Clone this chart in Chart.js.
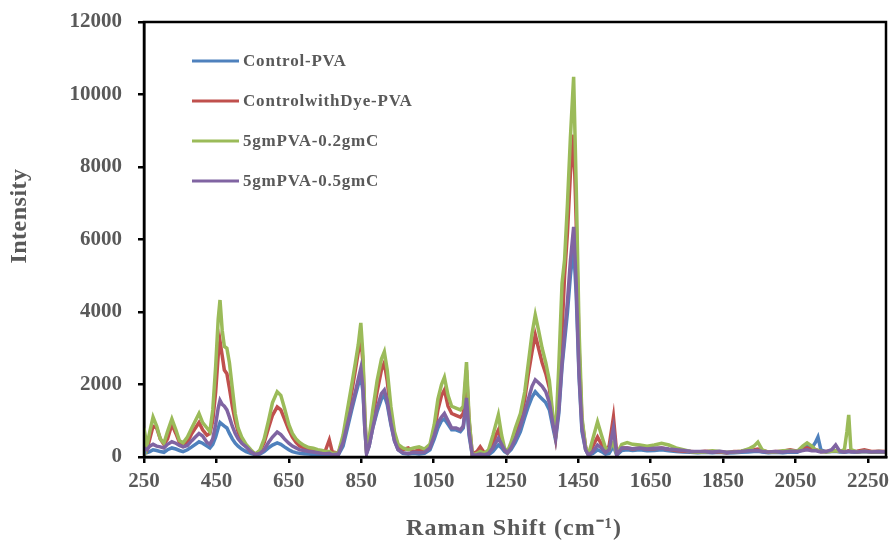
<!DOCTYPE html>
<html>
<head>
<meta charset="utf-8">
<script src="https://cdn.jsdelivr.net/npm/chart.js@4"></script>
<style>
    html, body { margin: 0; padding: 0; background: #ffffff; }
    #wrap { width: 891px; height: 543px; }
</style>
</head>
<body>
<div id="wrap"><canvas id="cchart" width="891" height="543"></canvas></div>
<script>
/*
    Values (Raman shift in cm-1, intensity in counts)
*/
let ramanShift = [250, 258, 266, 275, 285, 295, 305, 315, 327, 338, 348, 358, 370, 382, 392, 402, 412, 424, 432, 440,
    448, 455, 460, 466, 472, 479, 486, 494, 502, 510, 520, 532, 545, 557, 570, 582, 594, 605, 618, 628,
    638, 650, 660, 670, 680, 692, 705, 718, 730, 742, 752, 762, 770, 787, 800, 812, 824, 834, 842, 849,
    855, 860, 865, 872, 882, 894, 906, 914, 922, 932, 942, 952, 965, 980, 995, 1010, 1025, 1040, 1052, 1062,
    1072, 1080, 1090, 1100, 1112, 1124, 1132, 1141, 1148, 1157, 1170, 1179, 1190, 1202, 1214, 1222, 1229, 1238, 1246, 1254,
    1264, 1276, 1290, 1302, 1312, 1322, 1331, 1340, 1350, 1360, 1370, 1380, 1387, 1396, 1405, 1412, 1420, 1428, 1437, 1444,
    1452, 1460, 1470, 1478, 1490, 1503, 1514, 1525, 1535, 1547, 1556, 1570, 1585, 1600, 1620, 1640, 1660, 1680, 1700, 1720,
    1740, 1760, 1780, 1800, 1820, 1840, 1860, 1880, 1900, 1920, 1935, 1946, 1958, 1975, 1995, 2015, 2035, 2055, 2070, 2082,
    2095, 2105, 2112, 2120, 2135, 2150, 2161, 2172, 2185, 2192, 2197, 2203, 2220, 2240, 2260, 2280, 2300];

let controlPVA = [150, 120, 150, 200, 180, 150, 130, 200, 250, 220, 180, 150, 200, 280, 350, 420, 380, 300, 250, 350,
    550, 800, 950, 900, 850, 800, 650, 500, 380, 300, 220, 150, 100, 60, 80, 150, 250, 330, 390, 350,
    280, 200, 150, 120, 100, 90, 80, 70, 60, 50, 50, 60, 40, 60, 300, 800, 1300, 1700, 2000, 2250,
    1800, 800, 100, 300, 800, 1250, 1600, 1700, 1450, 900, 450, 200, 100, 80, 100, 80, 100, 200, 500, 800,
    1000, 1050, 900, 750, 750, 700, 800, 1550, 600, 50, 50, 60, 50, 60, 150, 250, 330, 250, 150, 100,
    200, 400, 700, 1100, 1400, 1650, 1800, 1700, 1600, 1500, 1300, 800, 470, 1200, 2500, 3200, 4000, 5000, 5800, 4500,
    2200, 700, 200, 50, 100, 200, 150, 80, 100, 300, 50, 180, 200, 180, 200, 170, 180, 200, 170, 150,
    140, 130, 120, 130, 120, 130, 110, 120, 130, 140, 150, 160, 140, 120, 130, 120, 140, 130, 200, 300,
    250, 400, 550, 200, 140, 150, 160, 140, 130, 140, 150, 140, 130, 150, 130, 140, 130];

let controlDyePVA = [300, 200, 500, 850, 800, 500, 350, 500, 900, 650, 400, 300, 400, 650, 800, 950, 750, 600, 650, 1000,
    1800, 2800, 3200, 2800, 2400, 2300, 1900, 1400, 1000, 700, 450, 300, 150, 80, 150, 400, 800, 1150, 1380, 1300,
    1050, 750, 550, 400, 300, 250, 200, 180, 150, 120, 200, 470, 150, 100, 500, 1100, 1800, 2400, 2900, 3300,
    2600, 1100, 150, 400, 1100, 1800, 2400, 2600, 2100, 1200, 600, 300, 200, 250, 150, 200, 180, 300, 700, 1300,
    1700, 1850, 1400, 1200, 1150, 1100, 1200, 2400, 1000, 80, 150, 280, 120, 100, 350, 600, 745, 400, 200, 120,
    300, 600, 1000, 1600, 2300, 2900, 3370, 3000, 2600, 2300, 1900, 1000, 550, 1500, 3500, 5000, 6200, 7800, 8890, 6500,
    3000, 1000, 280, 60, 300, 550, 350, 200, 300, 1100, 100, 250, 250, 220, 250, 220, 230, 250, 210, 180,
    160, 150, 140, 160, 150, 140, 120, 150, 160, 190, 200, 220, 180, 140, 150, 160, 200, 160, 220, 250,
    200, 200, 180, 150, 150, 180, 170, 160, 150, 160, 170, 150, 160, 200, 150, 160, 150];

let pva02 = [800, 300, 700, 1100, 850, 500, 380, 700, 1050, 750, 450, 390, 550, 800, 1000, 1200, 950, 800, 700, 1300,
    2500, 3800, 4330, 3500, 3050, 3000, 2600, 1900, 1200, 800, 550, 350, 200, 80, 180, 500, 1000, 1500, 1800, 1700,
    1350, 900, 650, 500, 400, 320, 260, 240, 200, 180, 150, 150, 100, 120, 600, 1300, 2000, 2600, 3100, 3700,
    2800, 1200, 150, 500, 1300, 2100, 2700, 2900, 2400, 1400, 700, 350, 250, 200, 250, 280, 220, 350, 900, 1600,
    2000, 2200, 1700, 1400, 1350, 1300, 1400, 2620, 1100, 60, 100, 150, 100, 200, 600, 900, 1160, 600, 250, 140,
    400, 800, 1200, 1800, 2600, 3400, 3920, 3500, 3000, 2600, 2100, 1100, 550, 2500, 4800, 5440, 7000, 8800, 10490, 7500,
    3500, 1100, 280, 60, 500, 970, 600, 250, 200, 400, 80, 350, 400, 350, 330, 300, 330, 380, 330, 250,
    200, 150, 130, 140, 170, 150, 130, 140, 160, 220, 300, 410, 200, 130, 140, 170, 180, 160, 300, 390,
    300, 200, 180, 150, 140, 160, 170, 150, 200, 700, 1160, 200, 140, 160, 140, 150, 140];

let pva05 = [250, 200, 300, 350, 300, 280, 250, 350, 420, 380, 320, 280, 320, 450, 550, 650, 580, 400, 350, 500,
    900, 1350, 1560, 1450, 1400, 1300, 1100, 850, 650, 500, 380, 280, 150, 70, 100, 200, 400, 550, 690, 620,
    500, 380, 300, 250, 200, 180, 150, 140, 120, 100, 90, 100, 60, 80, 400, 900, 1400, 1800, 2150, 2450,
    1900, 800, 100, 300, 800, 1350, 1750, 1850, 1550, 950, 450, 200, 120, 100, 130, 120, 130, 250, 600, 950,
    1100, 1200, 1000, 800, 800, 750, 850, 1630, 700, 50, 60, 80, 60, 100, 250, 400, 520, 350, 200, 120,
    250, 500, 850, 1250, 1600, 1950, 2130, 2050, 1950, 1800, 1500, 900, 550, 1300, 2600, 3400, 4300, 5400, 6350, 4800,
    2300, 800, 200, 50, 150, 330, 250, 120, 200, 800, 60, 250, 250, 230, 250, 220, 240, 250, 220, 200,
    180, 160, 150, 150, 140, 160, 130, 140, 150, 170, 170, 180, 150, 140, 150, 140, 160, 150, 180, 200,
    170, 180, 160, 140, 150, 200, 330, 160, 140, 150, 160, 150, 140, 160, 140, 150, 140];

let seriesNames = ["Control-PVA", "ControlwithDye-PVA", "5gmPVA-0.2gmC", "5gmPVA-0.5gmC"];
let seriesColors = ["#4F81BD", "#C0504D", "#9BBB59", "#8064A2"];
let xTicks = [250, 450, 650, 850, 1050, 1250, 1450, 1650, 1850, 2050, 2250];

let UICanvasChart = document.getElementById('cchart');
let _textColor = "#595959";
let _serif = "'Liberation Serif', 'Times New Roman', serif";

/*
    Pair the shared x values with one series
*/
function toPoints(values) {
    return ramanShift.map((x, i) => ({ x: x, y: values[i] }));
}

/*
    Fixed plot box: drop the extra room Chart.js keeps for edge labels
*/
function fixScale(scale, size) {
    if (scale.isHorizontal()) {
        scale.height = size;
    } else {
        scale.width = size;
    }
    scale.paddingTop = 0;
    scale.paddingBottom = 0;
    scale.paddingLeft = 0;
    scale.paddingRight = 0;
}

/*
    Box round the plot, axis titles and the legend inside the plot
*/
let decorPlugin = {
    id: 'decor',
    afterDraw(chart) {
        let ctx = chart.ctx;
        let area = chart.chartArea;
        ctx.save();

        ctx.strokeStyle = "#000000";
        ctx.lineWidth = 2.5;
        ctx.strokeRect(area.left, area.top, area.right - area.left, area.bottom - area.top);

        ctx.fillStyle = _textColor;
        ctx.font = "bold 24px " + _serif;
        ctx.textAlign = "center";
        ctx.textBaseline = "middle";
        ctx.letterSpacing = "1px";
        ctx.fillText("Raman Shift (cm\u207B\u00B9)", 514, 529);

        ctx.save();
        ctx.letterSpacing = "0.5px";
        ctx.translate(20, 216);
        ctx.rotate(-Math.PI / 2);
        ctx.fillText("Intensity", 0, 0);
        ctx.restore();

        ctx.font = "bold 17px " + _serif;
        ctx.textAlign = "left";
        ctx.letterSpacing = "0.8px";
        for (let i = 0; i < chart.data.datasets.length; i++) {
            const ds = chart.data.datasets[i];
            let y = 61 + i * 40;
            ctx.strokeStyle = ds.borderColor;
            ctx.lineWidth = 3;
            ctx.beginPath();
            ctx.moveTo(192, y);
            ctx.lineTo(239, y);
            ctx.stroke();
            ctx.fillStyle = _textColor;
            ctx.fillText(ds.label, 243, y + 1);
        }
        ctx.restore();
    }
};

let allValues = [controlPVA, controlDyePVA, pva02, pva05];
let datasets = allValues.map((values, i) => ({
    label: seriesNames[i],
    data: toPoints(values),
    borderColor: seriesColors[i],
    backgroundColor: seriesColors[i],
    borderWidth: 3.5,
    pointRadius: 0,
    tension: 0,
    fill: false,
    order: 3 - i
}));

let tickFont = { family: _serif, size: 21, weight: 'bold' };

let _chart = new Chart(UICanvasChart.getContext('2d'), {
    type: 'line',
    data: { datasets: datasets },
    options: {
        responsive: false,
        animation: false,
        layout: { padding: { top: 22, right: 5, left: 0, bottom: 0 } },
        plugins: {
            legend: { display: false },
            tooltip: { enabled: false }
        },
        scales: {
            x: {
                type: 'linear',
                min: 250,
                max: 2300,
                afterBuildTicks: axis => { axis.ticks = xTicks.map(v => ({ value: v })); },
                afterFit: scale => fixScale(scale, 86),
                border: { display: true, color: "#000000", width: 2.5 },
                grid: { display: true, drawOnChartArea: false, drawTicks: true, tickLength: 6, color: "#000000", lineWidth: 2.5 },
                ticks: { font: tickFont, color: _textColor, padding: 6, maxRotation: 0, autoSkip: false, callback: v => String(v) }
            },
            y: {
                min: 0,
                max: 12000,
                afterFit: scale => fixScale(scale, 144),
                border: { display: true, color: "#000000", width: 2.5 },
                grid: { display: true, drawOnChartArea: false, drawTicks: true, tickLength: 6, color: "#000000", lineWidth: 2.5 },
                ticks: { stepSize: 2000, font: tickFont, color: _textColor, padding: 16, callback: v => String(v) }
            }
        }
    },
    plugins: [decorPlugin]
});
</script>
</body>
</html>
